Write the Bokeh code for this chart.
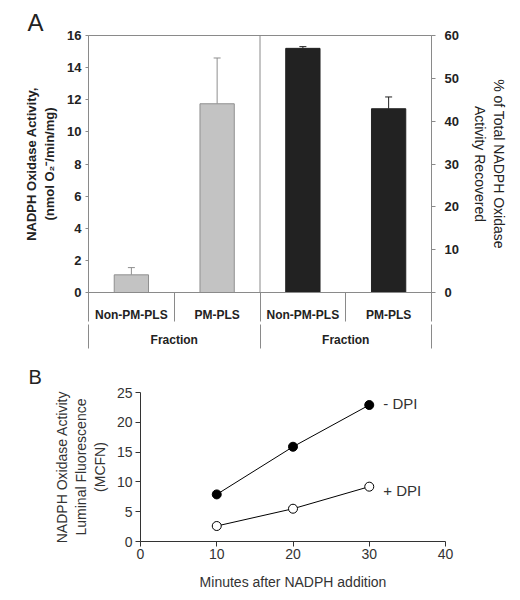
from bokeh.plotting import figure
from bokeh.models import (Range1d, LinearAxis, FixedTicker, Whisker, ColumnDataSource,
                          Span, Label, TeeHead)
from bokeh.embed import file_html
from bokeh.resources import INLINE

# ---------------- data ----------------
fractions = ["Non-PM-PLS", "PM-PLS"]
group_label = "Fraction"
activity = [1.1, 11.75]          # nmol O2-/min/mg
activity_err = [0.45, 2.85]
pct_recovered = [57.0, 42.9]     # % of total activity recovered
pct_err = [0.4, 2.75]
left_ticks = [0, 2, 4, 6, 8, 10, 12, 14, 16]
right_ticks = [0, 10, 20, 30, 40, 50, 60]

minutes = [10, 20, 30]
minus_dpi = [7.9, 15.9, 22.9]
plus_dpi = [2.6, 5.5, 9.2]
series = ["- DPI", "+ DPI"]
x_ticks_b = [0, 10, 20, 30, 40]
y_ticks_b = [0, 5, 10, 15, 20, 25]

FONT = "Liberation Sans"
AX = "#8a8a8a"
TXT = "#222222"

# ---------------- panel A ----------------
n = len(fractions)
left_x = [2 * i + 1 for i in range(n)]
right_x = [2 * (i + n) + 1 for i in range(n)]
cat_ticks = left_x + right_x
bounds = list(range(0, 4 * n + 1, 2))
group_ticks = [n, 3 * n]
group_bounds = [0, 2 * n, 4 * n]

pA = figure(width=510, height=349, x_range=Range1d(0, 4 * n), y_range=Range1d(0, 16),
            output_backend="svg", toolbar_location=None, x_axis_location=None,
            min_border_left=88, min_border_right=72, min_border_top=35, min_border_bottom=0)
pA.extra_y_ranges = {"pct": Range1d(0, 60)}
pA.grid.grid_line_color = None
pA.outline_line_color = AX

ya = pA.yaxis[0]
ya.ticker = FixedTicker(ticks=left_ticks)
ya.axis_line_color = AX
ya.major_tick_line_color = AX
ya.major_tick_out = 3
ya.major_tick_in = 0
ya.minor_tick_line_color = None
ya.major_label_standoff = 4
ya.major_label_text_font = FONT
ya.major_label_text_font_style = "bold"
ya.major_label_text_font_size = "13px"
ya.major_label_text_color = TXT
ya.axis_label = "NADPH Oxidase Activity,\n(nmol O\u2082\u207b/min/mg)"
ya.axis_label_text_font = FONT
ya.axis_label_text_font_style = "bold"
ya.axis_label_text_font_size = "13px"
ya.axis_label_text_color = TXT
ya.axis_label_standoff = 7

yr = LinearAxis(y_range_name="pct", ticker=FixedTicker(ticks=right_ticks))
yr.axis_line_color = AX
yr.major_tick_line_color = AX
yr.major_tick_out = 4
yr.major_tick_in = 0
yr.minor_tick_line_color = None
yr.major_label_standoff = 9
yr.major_label_text_font = FONT
yr.major_label_text_font_style = "bold"
yr.major_label_text_font_size = "13px"
yr.major_label_text_color = TXT
yr.axis_label = "% of Total NADPH Oxidase\nActivity Recovered"
yr.axis_label_text_font = FONT
yr.axis_label_text_font_style = "normal"
yr.axis_label_text_font_size = "14px"
yr.axis_label_text_color = TXT
yr.axis_label_standoff = 10
pA.add_layout(yr, "right")

# category axis (minor ticks = separators)
ax1 = LinearAxis(ticker=FixedTicker(ticks=cat_ticks, minor_ticks=bounds),
                 major_label_overrides={t: fractions[i % n] for i, t in enumerate(cat_ticks)})
ax1.axis_line_color = AX
ax1.major_tick_line_color = None
ax1.major_tick_out = 0
ax1.major_tick_in = 0
ax1.minor_tick_line_color = AX
ax1.minor_tick_out = 29
ax1.minor_tick_in = 0
ax1.major_label_standoff = -14
ax1.major_label_text_font = FONT
ax1.major_label_text_font_style = "bold"
ax1.major_label_text_font_size = "12px"
ax1.major_label_text_color = TXT
pA.add_layout(ax1, "below")

# group axis
ax2 = LinearAxis(ticker=FixedTicker(ticks=group_ticks, minor_ticks=group_bounds),
                 major_label_overrides={t: group_label for t in group_ticks})
ax2.axis_line_color = None
ax2.major_tick_line_color = None
ax2.major_tick_out = 0
ax2.major_tick_in = 0
ax2.minor_tick_line_color = AX
ax2.minor_tick_out = 24
ax2.minor_tick_in = 0
ax2.major_label_standoff = -16
ax2.major_label_text_font = FONT
ax2.major_label_text_font_style = "bold"
ax2.major_label_text_font_size = "12px"
ax2.major_label_text_color = TXT
pA.add_layout(ax2, "below")

pA.add_layout(Span(location=2 * n, dimension="height", line_color=AX, line_width=1))

srcL = ColumnDataSource(dict(x=left_x, top=activity,
                             upper=[a + e for a, e in zip(activity, activity_err)]))
pA.vbar(x="x", top="top", width=0.8, source=srcL, fill_color="#c3c3c3", line_color="#8f8f8f")
pA.add_layout(Whisker(base="x", lower="top", upper="upper", source=srcL, dimension="height",
                      line_color="#8f8f8f", lower_head=None,
                      upper_head=TeeHead(size=7, line_color="#8f8f8f")))

srcR = ColumnDataSource(dict(x=right_x, top=pct_recovered,
                             upper=[a + e for a, e in zip(pct_recovered, pct_err)]))
pA.vbar(x="x", top="top", width=0.8, source=srcR, y_range_name="pct",
        fill_color="#222222", line_color="#222222")
pA.add_layout(Whisker(base="x", lower="top", upper="upper", source=srcR, dimension="height",
                      y_range_name="pct", line_color="#222222", lower_head=None,
                      upper_head=TeeHead(size=7, line_color="#222222")))

pA.title.text = "A"
pA.title.text_font = FONT
pA.title.text_font_size = "24px"
pA.title.text_font_style = "normal"
pA.title.text_color = TXT
pA.title.align = "left"
pA.title.offset = -61
pA.title.standoff = 0

# ---------------- panel B ----------------
pB = figure(width=510, height=243, x_range=Range1d(0, 40), y_range=Range1d(0, 25),
            output_backend="svg", toolbar_location=None,
            min_border_left=140, min_border_right=65, min_border_top=43, min_border_bottom=0)
pB.grid.grid_line_color = None
pB.outline_line_color = None

for ax, ticks in ((pB.xaxis[0], x_ticks_b), (pB.yaxis[0], y_ticks_b)):
    ax.ticker = FixedTicker(ticks=ticks)
    ax.axis_line_color = "#333333"
    ax.major_tick_line_color = "#333333"
    ax.major_tick_out = 5
    ax.major_tick_in = 0
    ax.minor_tick_line_color = None
    ax.major_label_text_font = FONT
    ax.major_label_text_font_size = "14px"
    ax.major_label_text_color = "#333333"
    ax.axis_label_text_font = FONT
    ax.axis_label_text_font_size = "14px"
    ax.axis_label_text_font_style = "normal"
    ax.axis_label_text_color = "#333333"

pB.xaxis.major_label_standoff = 2
pB.yaxis.major_label_standoff = 3
pB.xaxis.axis_label = "Minutes after NADPH addition"
pB.xaxis.axis_label_standoff = 12
pB.yaxis.axis_label = "NADPH Oxidase Activity\nLuminal Fluorescence\n(MCFN)"
pB.yaxis.axis_label_standoff = 6

pB.line(minutes, minus_dpi, line_color="black", line_width=1)
pB.scatter(minutes, minus_dpi, size=9, marker="circle", fill_color="black", line_color="black")
pB.line(minutes, plus_dpi, line_color="black", line_width=1)
pB.scatter(minutes, plus_dpi, size=9, marker="circle", fill_color="white", line_color="black")

pB.add_layout(Label(x=minutes[-1], y=minus_dpi[-1], text=series[0], x_offset=14, y_offset=2,
                    text_baseline="middle", text_font=FONT, text_font_size="15px",
                    text_color="#333333"))
pB.add_layout(Label(x=minutes[-1], y=plus_dpi[-1], text=series[1], x_offset=14, y_offset=-4,
                    text_baseline="middle", text_font=FONT, text_font_size="15px",
                    text_color="#333333"))

pB.title.text = "B"
pB.title.text_font = FONT
pB.title.text_font_size = "20px"
pB.title.text_font_style = "normal"
pB.title.text_color = TXT
pB.title.align = "left"
pB.title.offset = -112
pB.title.standoff = 10

open("out.html", "w").write(file_html([pA, pB], INLINE))
